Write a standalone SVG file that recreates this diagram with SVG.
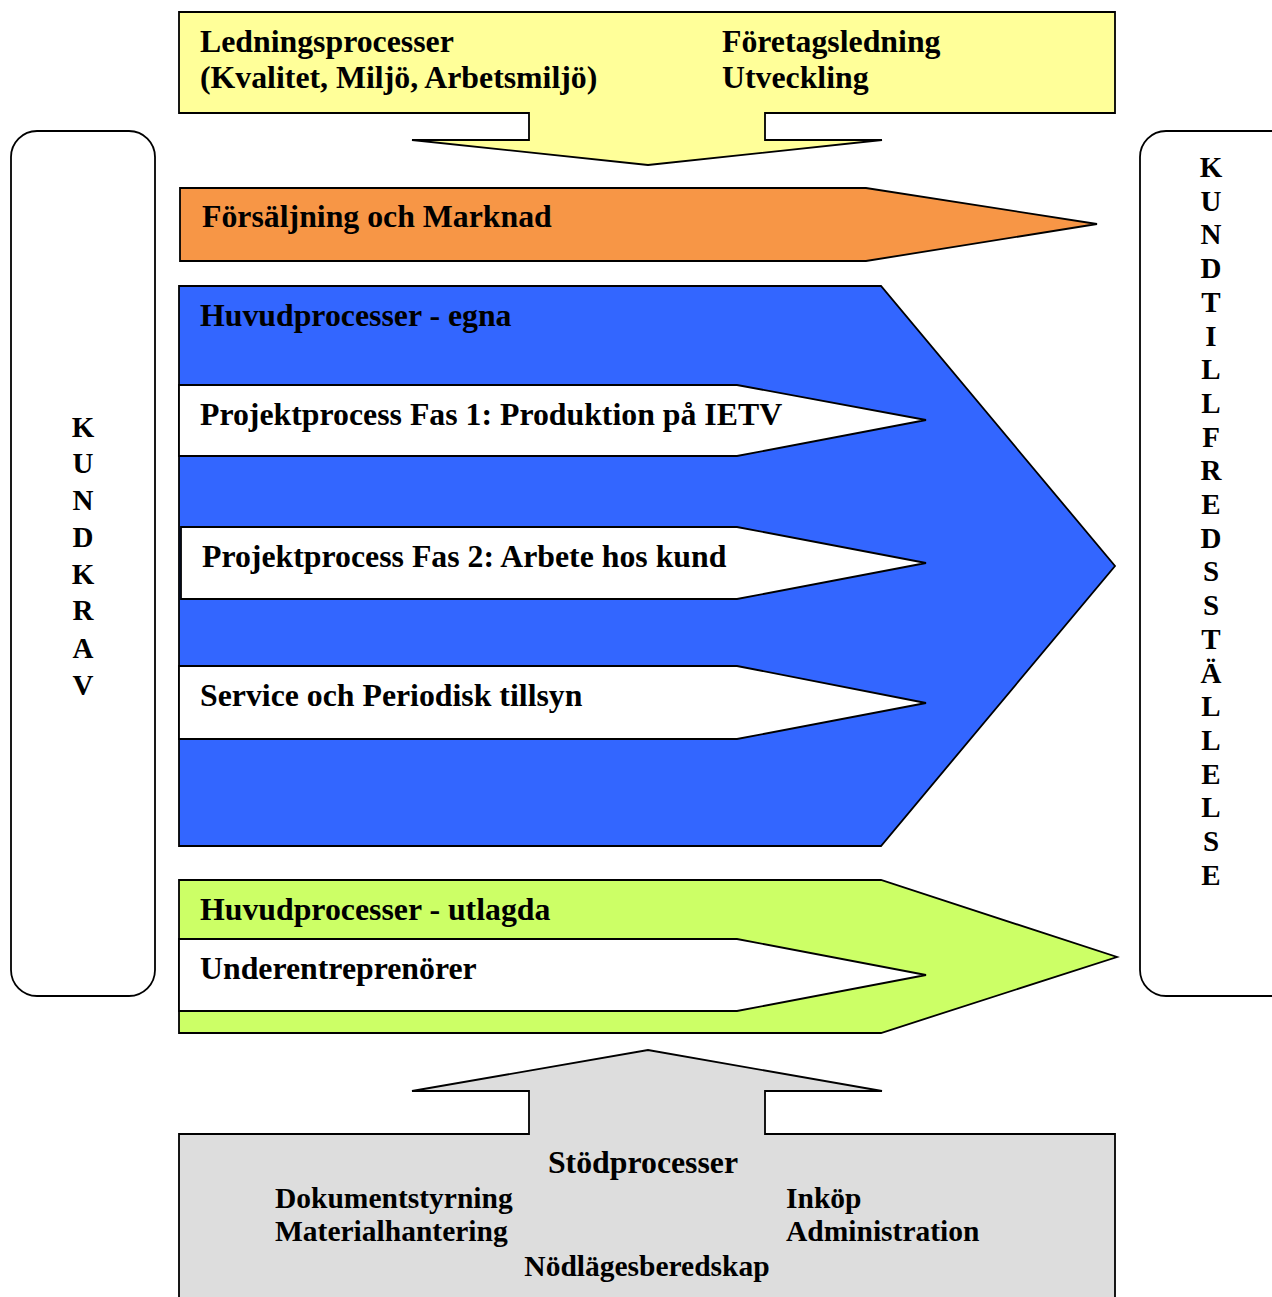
<svg xmlns="http://www.w3.org/2000/svg" width="1272" height="1297" viewBox="0 0 1272 1297">
<style>
.s{stroke:#000;stroke-width:1.8;stroke-linejoin:miter}
.t{font-family:"Liberation Serif","Times New Roman",serif;font-weight:bold;font-size:31.8px;fill:#000}
.b{font-size:29.5px}
.v{font-size:29px;text-anchor:middle}
</style>
<rect width="1272" height="1297" fill="#fff"/>
<g id="kundkrav">
<rect class="s" x="11" y="131" width="144" height="865" rx="26" ry="26" fill="#fff"/>
<text class="t v"><tspan x="83" y="437">K</tspan><tspan x="83" y="473">U</tspan><tspan x="83" y="510">N</tspan><tspan x="83" y="547">D</tspan><tspan x="83" y="584">K</tspan><tspan x="83" y="620">R</tspan><tspan x="83" y="658">A</tspan><tspan x="83" y="695">V</tspan></text>
</g>
<g id="kundtillfredsstallelse">
<rect class="s" x="1140" y="131" width="170" height="865" rx="26" ry="26" fill="#fff"/>
<text class="t v"><tspan x="1211" y="177">K</tspan><tspan x="1211" y="210.7">U</tspan><tspan x="1211" y="244.4">N</tspan><tspan x="1211" y="278.1">D</tspan><tspan x="1211" y="311.8">T</tspan><tspan x="1211" y="345.5">I</tspan><tspan x="1211" y="379.2">L</tspan><tspan x="1211" y="412.9">L</tspan><tspan x="1211" y="446.6">F</tspan><tspan x="1211" y="480.3">R</tspan><tspan x="1211" y="514">E</tspan><tspan x="1211" y="547.7">D</tspan><tspan x="1211" y="581.4">S</tspan><tspan x="1211" y="615.1">S</tspan><tspan x="1211" y="648.8">T</tspan><tspan x="1211" y="682.5">Ä</tspan><tspan x="1211" y="716.2">L</tspan><tspan x="1211" y="749.9">L</tspan><tspan x="1211" y="783.6">E</tspan><tspan x="1211" y="817.3">L</tspan><tspan x="1211" y="851">S</tspan><tspan x="1211" y="884.7">E</tspan></text>
</g>
<g id="ledningsprocesser">
<path class="s" fill="#FFFF99" d="M179,12 H1115 V113 H765 V140 H882 L648,165 L412,140 H529 V113 H179 Z"/>
<text class="t" x="200" y="52">Ledningsprocesser</text>
<text class="t" x="200" y="88">(Kvalitet, Miljö, Arbetsmiljö)</text>
<text class="t" x="722" y="52">Företagsledning</text>
<text class="t" x="722" y="88">Utveckling</text>
</g>
<g id="forsaljning">
<path class="s" fill="#F79646" d="M180,188 H866 L1097,224 L866,261 H180 Z"/>
<text class="t" x="202" y="227">Försäljning och Marknad</text>
</g>
<g id="huvud-egna">
<path class="s" fill="#3366FF" d="M179,286 H881 L1115,566 L881,846 H179 Z"/>
<text class="t" x="200" y="326">Huvudprocesser - egna</text>
</g>
<g id="fas1">
<path class="s" fill="#fff" d="M179,385 H737 L926,420 L737,456 H179 Z"/>
<text class="t" x="200" y="425">Projektprocess Fas 1: Produktion på IETV</text>
</g>
<g id="fas2">
<path class="s" fill="#fff" d="M181,527 H737 L926,563 L737,599 H181 Z"/>
<text class="t" x="202" y="567">Projektprocess Fas 2: Arbete hos kund</text>
</g>
<g id="service">
<path class="s" fill="#fff" d="M179,666 H737 L926,703 L737,739 H179 Z"/>
<text class="t" x="200" y="706">Service och Periodisk tillsyn</text>
</g>
<g id="huvud-utlagda">
<path class="s" fill="#CCFF66" d="M179,880 H881 L1117,957 L881,1033 H179 Z"/>
<text class="t" x="200" y="920">Huvudprocesser - utlagda</text>
</g>
<g id="underentreprenorer">
<path class="s" fill="#fff" d="M179,939 H737 L926,975 L737,1011 H179 Z"/>
<text class="t" x="200" y="979">Underentreprenörer</text>
</g>
<g id="stodprocesser">
<path class="s" fill="#DDDDDD" d="M179,1310 V1134 H529 V1091 H412 L648,1050 L882,1091 H765 V1134 H1115 V1310"/>
<text class="t" x="643" y="1173" text-anchor="middle" font-size="32">Stödprocesser</text>
<text class="t b" x="275" y="1208">Dokumentstyrning</text>
<text class="t b" x="275" y="1241">Materialhantering</text>
<text class="t b" x="786" y="1208">Inköp</text>
<text class="t b" x="786" y="1241">Administration</text>
<text class="t b" x="647" y="1276" text-anchor="middle">Nödlägesberedskap</text>
</g>
<g id="connectors"></g>
</svg>
